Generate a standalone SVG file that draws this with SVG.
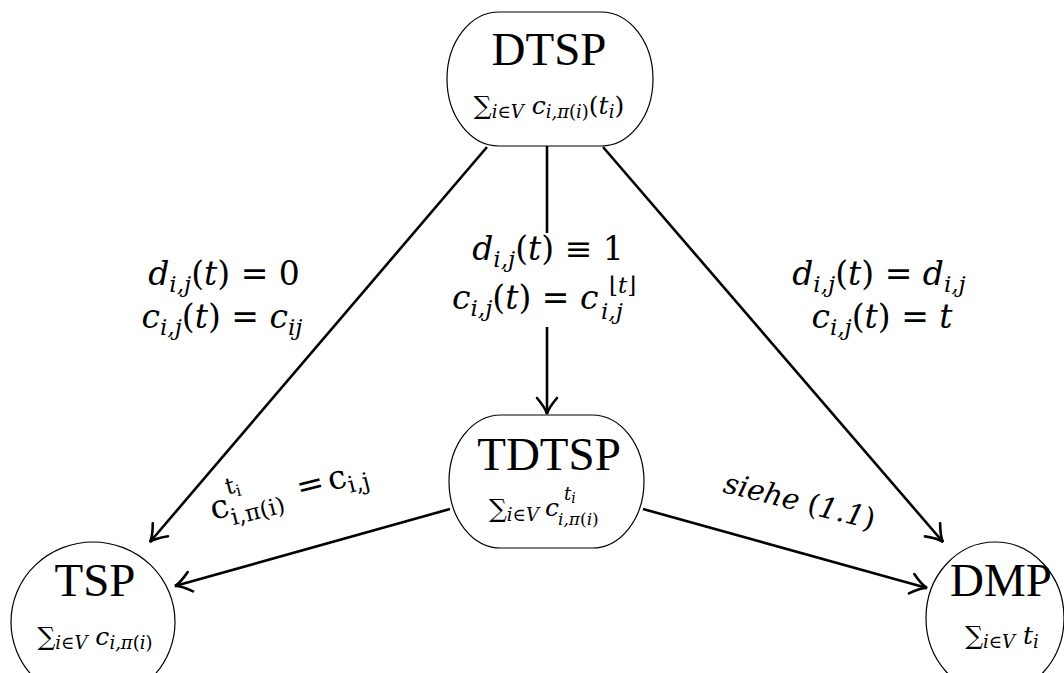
<svg xmlns="http://www.w3.org/2000/svg" width="1064" height="673" viewBox="0 0 1064 673">
<style>
.node{fill:#fff;stroke:#000;stroke-width:1.2}
.title{font-family:"Liberation Serif",serif;font-size:47px;text-anchor:middle;fill:#000}
.f{font-family:"DejaVu Serif",serif;font-size:25px;font-style:italic;fill:#000}
.m{font-family:"DejaVu Serif",serif;font-size:33px;font-style:italic;fill:#000}
.up{font-style:normal}
.s{font-size:18px}
.ms{font-size:23px}
.edge{stroke:#000;stroke-width:2.6;fill:none}
</style>
<defs>
<marker id="arr" markerUnits="userSpaceOnUse" markerWidth="30" markerHeight="30" viewBox="-20 -15 30 30" refX="0" refY="0" orient="auto">
<path d="M -16,-10 Q -6,-1.5 0,0 Q -6,1.5 -16,10" fill="none" stroke="#000" stroke-width="2.6" stroke-linecap="round"/>
</marker>
</defs>
<rect width="1064" height="673" fill="#fff"/>
<g id="connectors">
<line class="edge" x1="487" y1="147" x2="150" y2="542" marker-end="url(#arr)"/>
<line class="edge" x1="547" y1="146" x2="547" y2="414" marker-end="url(#arr)"/>
<line class="edge" x1="603" y1="147" x2="943" y2="542" marker-end="url(#arr)"/>
<line class="edge" x1="450" y1="509" x2="175" y2="586" marker-end="url(#arr)"/>
<line class="edge" x1="643" y1="509" x2="927" y2="588" marker-end="url(#arr)"/>
</g>
<g id="labels">
<rect x="450" y="233" width="194" height="94" fill="#fff"/>
<text class="m" x="224" y="285" text-anchor="middle">d<tspan class="ms" dy="7">i,j</tspan><tspan class="up" dy="-7">(</tspan>t<tspan class="up">) = 0</tspan></text>
<text class="m" x="222" y="328" text-anchor="middle">c<tspan class="ms" dy="7">i,j</tspan><tspan class="up" dy="-7">(</tspan>t<tspan class="up">) = </tspan>c<tspan class="ms" dy="7">ij</tspan></text>
<text class="m" x="548" y="260" text-anchor="middle">d<tspan class="ms" dy="7">i,j</tspan><tspan class="up" dy="-7">(</tspan>t<tspan class="up">) ≡ 1</tspan></text>
<text class="m" x="452" y="309">c<tspan class="ms" dy="7">i,j</tspan><tspan class="up" dy="-7">(</tspan>t<tspan class="up">) = </tspan>c<tspan class="ms up" x="609" y="293">⌊</tspan><tspan class="ms">t</tspan><tspan class="ms up">⌋</tspan><tspan class="ms" x="601" y="319">i,j</tspan></text>
<text class="m" x="879" y="285" text-anchor="middle">d<tspan class="ms" dy="7">i,j</tspan><tspan class="up" dy="-7">(</tspan>t<tspan class="up">) = </tspan>d<tspan class="ms" dy="7">i,j</tspan></text>
<text class="m" x="882" y="328" text-anchor="middle">c<tspan class="ms" dy="7">i,j</tspan><tspan class="up" dy="-7">(</tspan>t<tspan class="up">) = </tspan>t</text>
<text class="m up" x="213" y="520" transform="rotate(-14 213 520)">c<tspan class="ms" x="233" y="499">t</tspan><tspan font-size="16" dy="4">i</tspan><tspan class="ms" x="231" y="530">i,π(i)</tspan><tspan x="302" y="520">=</tspan><tspan x="334" y="520">c</tspan><tspan class="ms" dy="7">i,j</tspan></text>
<text class="m" x="722" y="492" style="font-size:29px" transform="rotate(14 722 492)">siehe <tspan class="up">(</tspan>1.1<tspan class="up">)</tspan></text>
</g>
<g id="node-dtsp">
<rect class="node" x="447" y="12" width="206" height="134" rx="52" ry="67"/>
<text class="title" x="549" y="65">DTSP</text>
<text class="f" x="549" y="114" text-anchor="middle"><tspan class="up">∑</tspan><tspan class="s" dy="4">i∈V</tspan><tspan dy="-4"> c</tspan><tspan class="s" dy="4">i,π<tspan class="up">(</tspan>i<tspan class="up">)</tspan></tspan><tspan class="up" dy="-4">(</tspan>t<tspan class="s" dy="4">i</tspan><tspan class="up" dy="-4">)</tspan></text>
</g>
<g id="node-tdtsp">
<rect class="node" x="449" y="415" width="195" height="133" rx="52" ry="66.5"/>
<text class="title" x="549" y="470">TDTSP</text>
<text class="f" x="489" y="517"><tspan class="up">∑</tspan><tspan class="s" dy="4">i∈V</tspan><tspan x="545" y="516">c</tspan><tspan class="s" x="564" y="500">t</tspan><tspan font-size="14" dy="3">i</tspan><tspan style="font-size:17px" x="558" y="525">i,π<tspan class="up">(</tspan>i<tspan class="up">)</tspan></tspan></text>
</g>
<g id="node-tsp">
<ellipse class="node" cx="93" cy="622" rx="82" ry="80"/>
<text class="title" x="95" y="596">TSP</text>
<text class="f" x="95" y="645" text-anchor="middle"><tspan class="up">∑</tspan><tspan class="s" dy="4">i∈V</tspan><tspan dy="-4"> c</tspan><tspan class="s" dy="4">i,π<tspan class="up">(</tspan>i<tspan class="up">)</tspan></tspan></text>
</g>
<g id="node-dmp">
<ellipse class="node" cx="995" cy="618" rx="69" ry="76"/>
<text class="title" x="1001" y="596">DMP</text>
<text class="f" x="1002" y="644" text-anchor="middle"><tspan class="up">∑</tspan><tspan class="s" dy="4">i∈V</tspan><tspan dy="-4"> t</tspan><tspan class="s" dy="4">i</tspan></text>
</g>
</svg>
